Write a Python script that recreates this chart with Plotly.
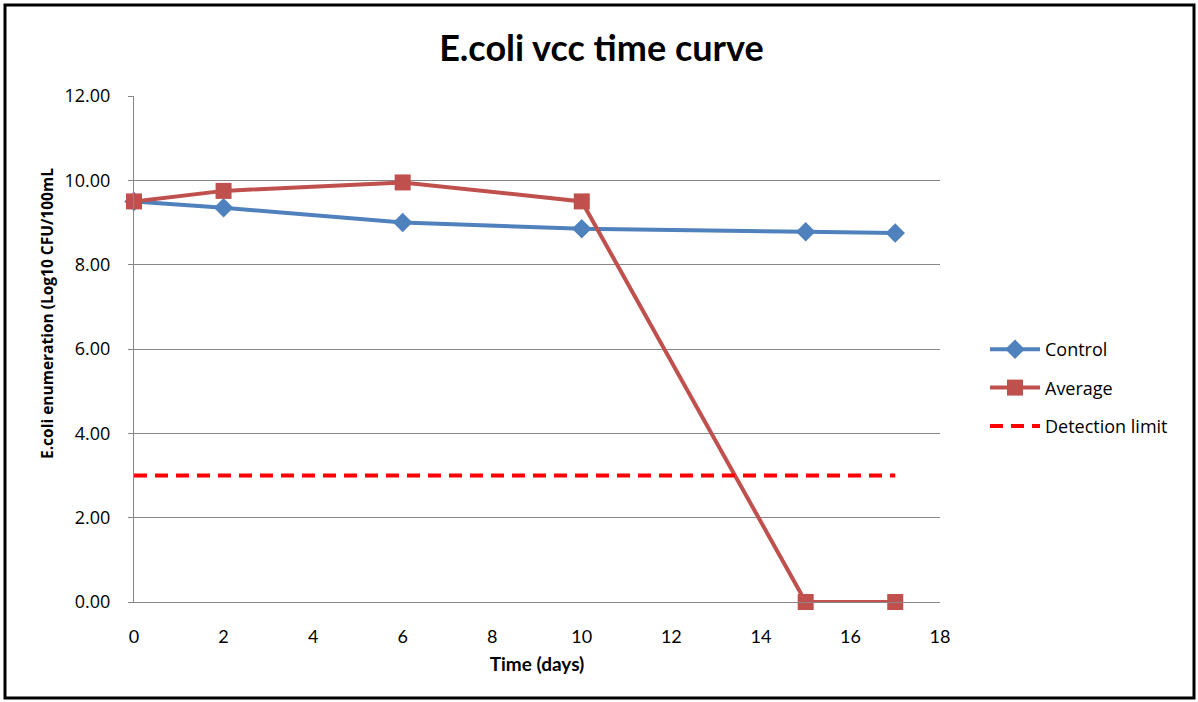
import plotly.graph_objects as go

# Sampling days and log10 counts
days_control = [0, 2, 6, 10, 15, 17]
control = [9.50, 9.35, 9.00, 8.85, 8.78, 8.75]

days_average = [0, 2, 6, 10, 15, 17]
average = [9.50, 9.75, 9.95, 9.50, 0.00, 0.00]

days_limit = [0, 17]
detection_limit = [3.0, 3.0]

y_ticks = [0, 2, 4, 6, 8, 10, 12]
y_tick_text = [f"{v:.2f}" for v in y_ticks]
x_ticks = list(range(0, 19, 2))

BLUE = "#4F81BD"
RED = "#C0504D"
GRID = "#878787"
NARROW = "Lato, sans-serif"
WIDE = "Open Sans, DejaVu Sans, sans-serif"

fig = go.Figure()
fig.add_trace(go.Scatter(
    x=days_control, y=control, name="Control", mode="lines+markers",
    legendgroup="c", cliponaxis=False,
    line=dict(color=BLUE, width=4),
    marker=dict(symbol="diamond", size=15, color=BLUE),
))
fig.add_trace(go.Scatter(
    x=days_average, y=average, name="Average", mode="lines+markers",
    legendgroup="a", cliponaxis=False,
    line=dict(color=RED, width=4),
    marker=dict(symbol="square", size=16, color=RED),
))
fig.add_trace(go.Scatter(
    x=days_limit, y=detection_limit, name="Detection limit", mode="lines",
    legendgroup="d", cliponaxis=False,
    line=dict(color="#FF0000", width=4, dash="13px,8px"),
))

# plot area spans 806 x 506 px; outer frame expressed in paper units
W, H = 806.0, 506.0
L = 134.0
frame = dict(
    x0=(5 - L) / W, x1=(1194 - L) / W,
    y0=(602 - 698) / H, y1=(602 - 5) / H,
)

fig.update_layout(
    width=1198, height=702,
    margin=dict(l=134, r=258, t=96, b=100),
    paper_bgcolor="white", plot_bgcolor="white",
    title=dict(text="<b>E.coli vcc time curve</b>", x=0.502, xref="container",
               xanchor="center", y=1 - 48 / 702, yref="container", yanchor="middle",
               font=dict(family=NARROW, size=36, color="black")),
    showlegend=True,
    legend=dict(x=(985 - L) / W, y=(602 - 388) / H, xanchor="left", yanchor="middle",
                font=dict(family=WIDE, size=18, color="black"),
                tracegroupgap=12, itemwidth=50, bgcolor="rgba(0,0,0,0)"),
    xaxis=dict(
        range=[0, 18], tickvals=x_ticks, showgrid=False,
        showline=True, linecolor=GRID, linewidth=1, zeroline=False,
        ticks="", ticklabelstandoff=18,
        tickfont=dict(family=NARROW, size=18, color="black"),
        title=dict(text="<b>Time (days)</b>", standoff=12,
                   font=dict(family=NARROW, size=19, color="black")),
    ),
    yaxis=dict(
        range=[0, 12], tickvals=y_ticks, ticktext=y_tick_text,
        showgrid=True, gridcolor=GRID, gridwidth=1,
        showline=True, linecolor=GRID, linewidth=1, zeroline=False,
        ticks="outside", ticklen=5, tickcolor=GRID, ticklabelstandoff=14,
        tickfont=dict(family=WIDE, size=18, color="black"),
    ),
    annotations=[dict(
        text="<b>E.coli enumeration (Log10 CFU/100mL</b>", textangle=-90,
        xref="paper", yref="paper", x=(47 - L) / W, y=(602 - 314) / H,
        xanchor="center", yanchor="middle", showarrow=False,
        font=dict(family=WIDE, size=15.5, color="black"),
    )],
    shapes=[dict(type="rect", xref="paper", yref="paper", line=dict(color="black", width=3),
                 fillcolor="rgba(0,0,0,0)", layer="above", **frame)],
)

fig.write_html("out.html")
